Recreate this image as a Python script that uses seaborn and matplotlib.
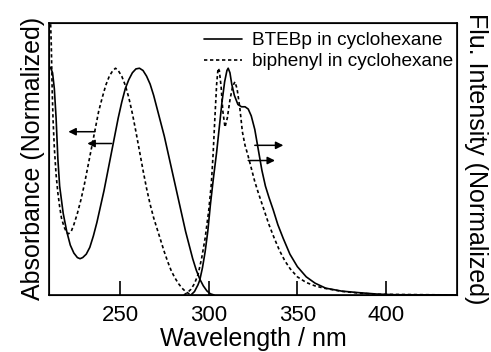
import numpy as np
import pandas as pd
import matplotlib
matplotlib.use('Agg')
import matplotlib.pyplot as plt
import seaborn as sns

# absorption, BTEBp (solid)
abs_btebp_wl = [210, 211, 212, 213, 214, 215, 216, 218, 220, 222, 224, 226, 227.5, 229, 231,
                233, 235, 237, 239, 241, 243, 245, 247, 249, 251, 253, 255, 257, 259, 261,
                263, 265, 267, 269, 271, 273, 275, 277, 279, 281, 283, 285, 287, 289, 291,
                293, 295, 297, 299, 301, 303]
abs_btebp = [1.01, 1.0, 0.98, 0.91, 0.78, 0.60, 0.48, 0.36, 0.28, 0.22, 0.185, 0.165, 0.16,
             0.165, 0.18, 0.21, 0.26, 0.32, 0.39, 0.46, 0.54, 0.62, 0.70, 0.78, 0.85, 0.91,
             0.95, 0.98, 0.997, 1.0, 0.99, 0.965, 0.93, 0.88, 0.82, 0.76, 0.70, 0.63, 0.56,
             0.49, 0.42, 0.35, 0.28, 0.22, 0.16, 0.11, 0.07, 0.04, 0.018, 0.005, 0.0]

# absorption, biphenyl (dashed)
abs_bip_wl = [210.5, 211.3, 211.8, 212.3, 213, 214, 215, 216, 217, 218.5, 220, 221, 222.5,
              224, 226, 228, 230, 232, 234, 236, 238, 240, 242, 244, 246, 247.5, 249, 251,
              253, 255, 257, 259, 261, 263, 265, 267, 269, 271, 273, 275, 277, 279, 281, 283,
              285, 287, 289, 291]
abs_bip = [1.3, 1.1, 0.9, 0.77, 0.65, 0.53, 0.45, 0.39, 0.34, 0.30, 0.275, 0.27, 0.28, 0.31,
           0.36, 0.42, 0.49, 0.57, 0.65, 0.73, 0.81, 0.87, 0.925, 0.965, 0.99, 1.0, 0.99,
           0.965, 0.925, 0.87, 0.80, 0.72, 0.635, 0.55, 0.47, 0.40, 0.34, 0.29, 0.24, 0.19,
           0.145, 0.105, 0.075, 0.05, 0.03, 0.015, 0.005, 0.0]

# fluorescence, BTEBp (solid)
flu_btebp_wl = [290, 292, 294, 295, 296.5, 298, 299.5, 301, 302.6, 304.5, 306, 307.5, 309,
                310.3, 311, 312, 313, 314.5, 316.5, 318.5, 320.5, 322.3, 324, 326, 328, 330,
                332, 334, 336.4, 339, 342, 345.8, 350, 355, 360, 366, 375, 385, 395, 405, 440]
flu_btebp = [0.0, 0.015, 0.045, 0.066, 0.12, 0.19, 0.28, 0.40, 0.51, 0.63, 0.74, 0.85, 0.94,
             0.99, 1.0, 0.98, 0.93, 0.88, 0.84, 0.83, 0.83, 0.82, 0.79, 0.73, 0.64, 0.55, 0.48,
             0.43, 0.375, 0.31, 0.25, 0.18, 0.125, 0.08, 0.052, 0.03, 0.017, 0.01, 0.004,
             0.001, 0.0]

# fluorescence, biphenyl (dashed)
flu_bip_wl = [286, 288, 290, 292, 294, 296, 298, 300, 301.5, 302.5, 303.5, 304.5, 305.3, 306,
              307, 308, 309.2, 310.5, 312, 313.5, 314.8, 316, 317.5, 319, 320.5, 322, 324, 326,
              328, 331, 334, 337, 340, 343, 346, 350, 355, 360, 365, 375, 385, 395, 440]
flu_bip = [0.0, 0.01, 0.025, 0.05, 0.09, 0.16, 0.25, 0.37, 0.49, 0.62, 0.78, 0.93, 1.0, 0.99,
           0.92, 0.81, 0.74, 0.78, 0.86, 0.92, 0.94, 0.91, 0.83, 0.72, 0.66, 0.62, 0.56, 0.50,
           0.45, 0.38, 0.31, 0.25, 0.195, 0.15, 0.115, 0.08, 0.055, 0.04, 0.03, 0.016, 0.008,
           0.003, 0.0]

labels = ['BTEBp in cyclohexane', 'biphenyl in cyclohexane']
xticks = [250, 300, 350, 400]

sns.set_style('ticks')
plt.rcParams['font.family'] = ['Liberation Sans', 'DejaVu Sans']
plt.rcParams.update({'text.color': 'k', 'axes.labelcolor': 'k', 'xtick.color': 'k',
                     'ytick.color': 'k', 'axes.edgecolor': 'k'})

fig = plt.figure(figsize=(4.91, 3.52), dpi=100)
ax = fig.add_axes([0.0998, 0.162, 0.831, 0.773])

dash = (0, (2, 1.6))
sns.lineplot(x=abs_btebp_wl, y=abs_btebp, ax=ax, color='k', lw=1.2, label=labels[0])
sns.lineplot(x=abs_bip_wl, y=abs_bip, ax=ax, color='k', lw=1.2, linestyle=dash, label=labels[1])
sns.lineplot(x=flu_btebp_wl, y=flu_btebp, ax=ax, color='k', lw=1.2, label='_nolegend_')
sns.lineplot(x=flu_bip_wl, y=flu_bip, ax=ax, color='k', lw=1.2, linestyle=dash, label='_nolegend_')

# arrows pointing to the axis each curve belongs to
arr = dict(arrowstyle='-|>', lw=1.1, color='k', mutation_scale=11, shrinkA=0, shrinkB=0)
ax.annotate('', xy=(220.9, 0.72), xytext=(235.9, 0.72), arrowprops=arr)
ax.annotate('', xy=(231.6, 0.668), xytext=(245.3, 0.668), arrowprops=arr)
ax.annotate('', xy=(342.1, 0.66), xytext=(326.0, 0.66), arrowprops=arr)
ax.annotate('', xy=(337.4, 0.593), xytext=(322.3, 0.593), arrowprops=arr)

ax.set_xlim(210, 440)
ax.set_ylim(0, 1.2)
ax.set_xticks(xticks)
ax.set_yticks([])
ax.tick_params(axis='x', direction='in', length=10, width=1.2, labelsize=16, pad=7)
for s in ax.spines.values():
    s.set_visible(True)
    s.set_linewidth(1.2)
ax.set_xlabel('Wavelength / nm', fontsize=18, labelpad=1)
ax.set_ylabel('Absorbance (Normalized)', fontsize=18, labelpad=3)

ax2 = ax.twinx()
ax2.set_yticks([])
ax2.set_ylabel('Flu. Intensity (Normalized)', fontsize=18, rotation=270, labelpad=22)

ax.legend(loc='upper right', bbox_to_anchor=(0.99, 0.967), frameon=False, fontsize=13.7,
          handlelength=2.0, handletextpad=0.5, labelspacing=0.2, borderpad=0,
          borderaxespad=0)

fig.savefig('out.png', dpi=100)
